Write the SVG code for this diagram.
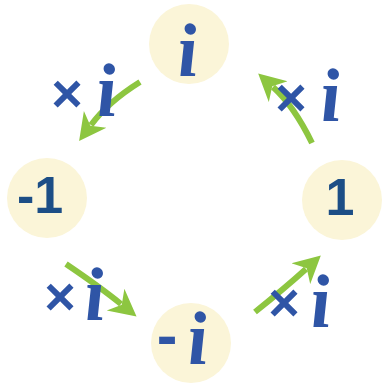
<svg xmlns="http://www.w3.org/2000/svg" width="382" height="383" viewBox="0 0 382 383">
<style>
.node{fill:#FBF5D8}
.num{font-family:"Liberation Sans",Arial,sans-serif;font-weight:bold;font-size:52px;fill:#1C4E86;text-anchor:middle}
.i{font-family:"Liberation Serif","Times New Roman",serif;font-weight:bold;font-style:italic;font-size:76px;fill:#2F55A6;text-anchor:middle}
.x{font-family:"Liberation Sans",Arial,sans-serif;font-weight:bold;font-size:54px;fill:#2F55A6;text-anchor:middle}
.dash{font-family:"Liberation Sans",Arial,sans-serif;font-weight:bold;font-size:62px;fill:#2F55A6;text-anchor:middle}
.arr{fill:none;stroke:#8DC640;stroke-width:6;marker-end:url(#head)}
</style>
<defs>
<marker id="head" markerUnits="userSpaceOnUse" viewBox="0 -15 30 30" refX="7" refY="0" markerWidth="30" markerHeight="30" orient="auto">
<path d="M0,-14 L27,0 L0,14 L8,0 z" fill="#8DC640"/>
</marker>
</defs>
<rect width="382" height="383" fill="#FFFFFF"/>
<g id="node-i">
<circle class="node" cx="189" cy="44" r="40"/>
<text class="i" transform="translate(189,76) skewX(4)">i</text>
</g>
<g id="node-minus1">
<circle class="node" cx="47" cy="198" r="40"/>
<text class="num" x="40" y="213">-1</text>
</g>
<g id="node-1">
<circle class="node" cx="342" cy="200" r="40"/>
<text class="num" x="340" y="215">1</text>
</g>
<g id="node-minus-i">
<circle class="node" cx="191" cy="343" r="40"/>
<text class="dash" x="167" y="356">-</text>
<text class="i" transform="translate(199,364) skewX(4)">i</text>
</g>
<g id="connectors">
<path class="arr" d="M140,82 Q108,102 91,125"/>
<path class="arr" d="M312,143 Q294,106 273,87"/>
<path class="arr" d="M66,264 Q100,287 121,304"/>
<path class="arr" d="M255,312 Q285,288 306,269"/>
</g>
<g id="labels">
<text class="x" x="67" y="112">×</text>
<text class="i" transform="translate(108,116) skewX(4)">i</text>
<text class="x" x="291" y="116">×</text>
<text class="i" transform="translate(332,121) skewX(4)">i</text>
<text class="x" x="60" y="315">×</text>
<text class="i" transform="translate(96,320) skewX(4)">i</text>
<text class="x" x="284" y="321">×</text>
<text class="i" transform="translate(322,327) skewX(4)">i</text>
</g>
</svg>
